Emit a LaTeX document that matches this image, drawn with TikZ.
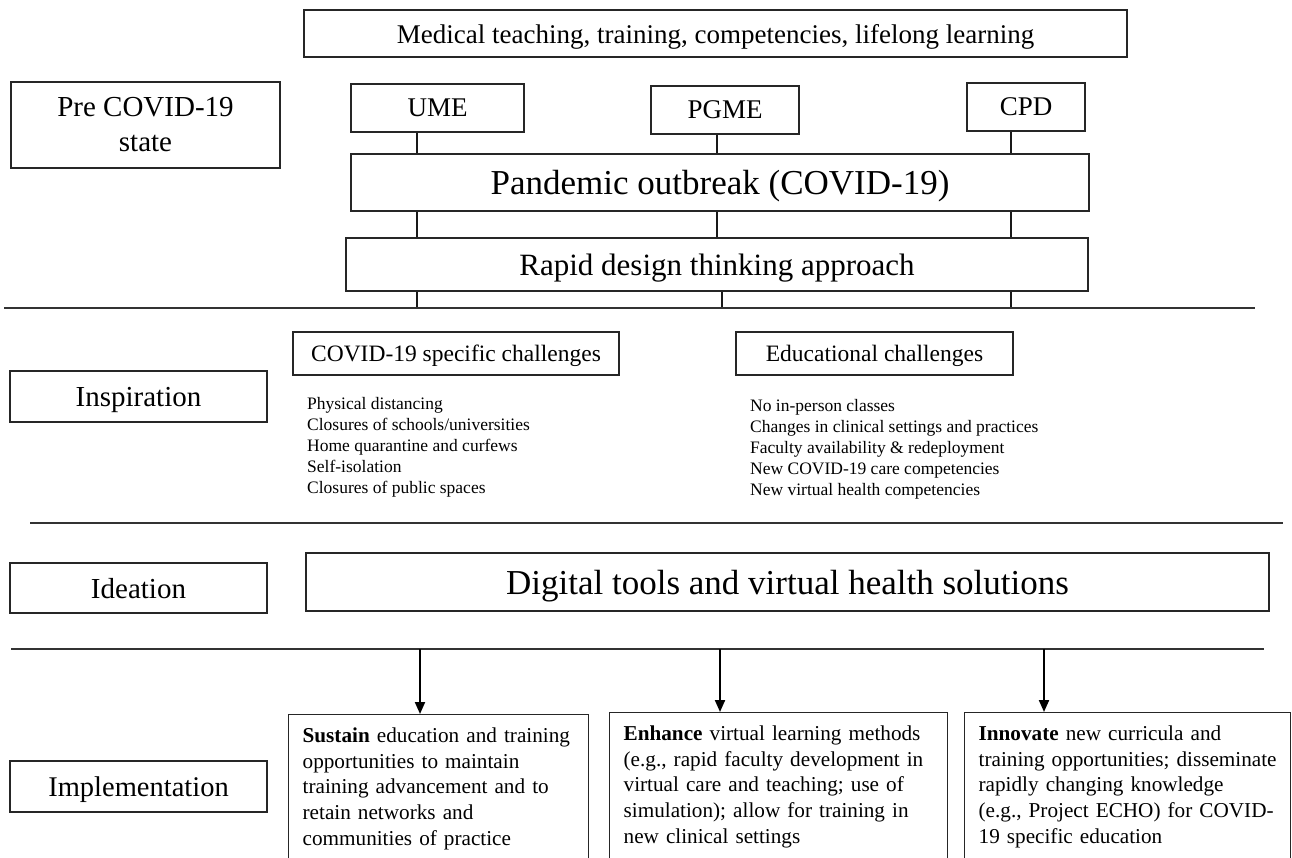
\documentclass[tikz,border=0pt]{standalone}
\usepackage{fontspec}
\setmainfont{Liberation Serif}
\usetikzlibrary{arrows.meta}
\begin{document}
\begin{tikzpicture}[x=1pt,y=-1pt,
  box/.style={draw=black!85, line width=1.3pt, inner sep=0pt, align=center},
  onebox/.style={box, text depth=0pt},
  conn/.style={line width=2pt, draw=black!90},
  sepline/.style={line width=1.3pt, draw=black!80},
  arr/.style={line width=2pt, draw=black, -{Triangle[width=10pt,length=12pt]}},
  listtxt/.style={inner sep=0pt, align=left, anchor=north west, font=\fontsize{17.5}{21}\selectfont},
  impl/.style={draw=black!85, line width=1.3pt, anchor=north west, align=left, inner xsep=14pt, inner ysep=13pt, font=\fontsize{21.2}{25.7}\selectfont}
]
\clip (0,0) rectangle (1292,857);
\fill[white] (0,0) rectangle (1292,857);

% separator line end points
\coordinate (s1l) at (4,308);   \coordinate (s1r) at (1255,308);
\coordinate (s2l) at (30,523);  \coordinate (s2r) at (1283,523);
\coordinate (s3l) at (11,649);  \coordinate (s3r) at (1264,649);
% connector x positions
\coordinate (xa) at (417,0);
\coordinate (xb) at (717,0);
\coordinate (xb2) at (722,0);
\coordinate (xc) at (1011,0);
\coordinate (xs1) at (420,0);
\coordinate (xs2) at (720,0);
\coordinate (xs3) at (1044,0);

% Pre COVID-19 state
\node[onebox, minimum width=823pt, minimum height=47pt, font=\fontsize{27}{32}\selectfont] (medical) at (715.5,33.5) {Medical teaching, training, competencies, lifelong learning};
\node[box, minimum width=269pt, minimum height=86pt, font=\fontsize{29}{35}\selectfont] (pre) at (145.5,125) {Pre COVID-19\\state};
\node[onebox, minimum width=173pt, minimum height=48pt, font=\fontsize{27}{32}\selectfont] (ume) at (437.5,108) {UME};
\node[onebox, minimum width=148pt, minimum height=48pt, font=\fontsize{27}{32}\selectfont] (pgme) at (725,110) {PGME};
\node[onebox, minimum width=118pt, minimum height=48pt, font=\fontsize{27}{32}\selectfont] (cpd) at (1026,107) {CPD};
\node[onebox, minimum width=738pt, minimum height=57pt, font=\fontsize{35}{42}\selectfont] (pand) at (720,182.5) {Pandemic outbreak (COVID-19)};
\node[onebox, minimum width=742pt, minimum height=53pt, font=\fontsize{31}{37}\selectfont] (rapid) at (717,264.5) {Rapid design thinking approach};

\draw[conn] (ume.south -| xa) -- (pand.north -| xa);
\draw[conn] (pand.south -| xa) -- (rapid.north -| xa);
\draw[conn] (rapid.south -| xa) -- (xa |- s1l);
\draw[conn] (pgme.south -| xb) -- (pand.north -| xb);
\draw[conn] (pand.south -| xb) -- (rapid.north -| xb);
\draw[conn] (rapid.south -| xb2) -- (xb2 |- s1l);
\draw[conn] (cpd.south -| xc) -- (pand.north -| xc);
\draw[conn] (pand.south -| xc) -- (rapid.north -| xc);
\draw[conn] (rapid.south -| xc) -- (xc |- s1l);

\draw[sepline] (s1l) -- (s1r);

% Inspiration
\node[onebox, minimum width=257pt, minimum height=51pt, font=\fontsize{29}{35}\selectfont] (insp) at (138.5,396.5) {Inspiration};
\node[onebox, minimum width=326pt, minimum height=43pt, font=\fontsize{23.5}{28}\selectfont] (covid) at (456,353.5) {COVID-19 specific challenges};
\node[onebox, minimum width=277pt, minimum height=43pt, font=\fontsize{23.5}{28}\selectfont] (educ) at (874.5,353.5) {Educational challenges};
\node[listtxt] (list1) at (307,397) {Physical distancing\\Closures of schools/universities\\Home quarantine and curfews\\Self-isolation\\Closures of public spaces};
\node[listtxt] (list2) at (750,399) {No in-person classes\\Changes in clinical settings and practices\\Faculty availability \& redeployment\\New COVID-19 care competencies\\New virtual health competencies};

\draw[sepline] (s2l) -- (s2r);

% Ideation
\node[onebox, minimum width=257pt, minimum height=50pt, font=\fontsize{29}{35}\selectfont] (idea) at (138.5,588) {Ideation};
\node[onebox, minimum width=963pt, minimum height=58pt, font=\fontsize{35}{42}\selectfont] (digital) at (787.5,582) {Digital tools and virtual health solutions};

\draw[sepline] (s3l) -- (s3r);

% Implementation
\node[onebox, minimum width=257pt, minimum height=51pt, font=\fontsize{28.5}{34}\selectfont] (implem) at (138.5,786.5) {Implementation};
\node[impl, text width=272pt] (sustain) at (288,714) {\textbf{Sustain} education and training\\opportunities to maintain\\training advancement and to\\retain networks and\\communities of practice};
\node[impl, text width=310pt] (enhance) at (609,712) {\textbf{Enhance} virtual learning methods\\(e.g., rapid faculty development in\\virtual care and teaching; use of\\simulation); allow for training in\\new clinical settings};
\node[impl, text width=298pt] (innovate) at (964,712) {\textbf{Innovate} new curricula and\\training opportunities; disseminate\\rapidly changing knowledge\\(e.g., Project ECHO) for COVID-\\19 specific education};

\draw[arr] (xs1 |- s3l) -- (sustain.north -| xs1);
\draw[arr] (xs2 |- s3l) -- (enhance.north -| xs2);
\draw[arr] (xs3 |- s3l) -- (innovate.north -| xs3);
\end{tikzpicture}
\end{document}
